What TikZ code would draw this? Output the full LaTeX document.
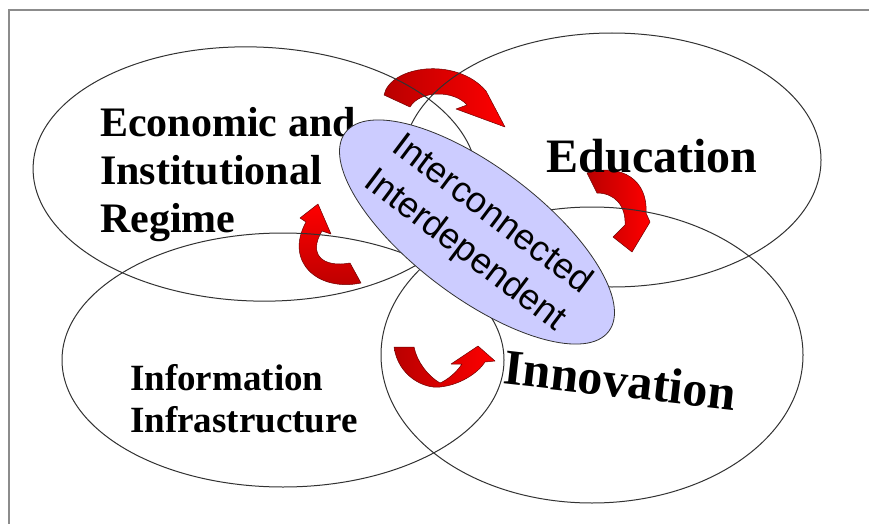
\documentclass[tikz,border=0pt]{standalone}
\usepackage{fontspec}
\setmainfont{Liberation Serif}
\newfontfamily\blufont{Liberation Sans}
\usetikzlibrary{shapes.geometric}
\definecolor{corefill}{RGB}{204,204,255}
\definecolor{arrdark}{RGB}{185,0,0}
\definecolor{arrred}{RGB}{255,0,0}
\definecolor{arredge}{RGB}{110,0,0}
\definecolor{edgegray}{RGB}{50,50,50}
\definecolor{framegray}{RGB}{140,140,140}
\begin{document}
\begin{tikzpicture}[x=1pt,y=-1pt,
  ring/.style={draw=edgegray, line width=1pt, ellipse, inner sep=0pt},
  arrowbody/.style={draw=arredge, line width=0.5pt, line join=round},
  lbl/.style={inner sep=0pt, text=black}]
\useasboundingbox (0,0) rectangle (869,524);
\fill[white] (0,0) rectangle (869,524);
\coordinate (fbl) at (9,524);
\coordinate (ftl) at (9,10);
\coordinate (ftr) at (869,10);
\draw[framegray, line width=1.5pt] (fbl) -- (ftl) -- (ftr);
% curved block arrows
\path[arrowbody, left color=arrdark, middle color=arrred, right color=arrred]
  (384,95) .. controls (390,66) and (456,56) .. (486,91) -- (505,127) -- (456,109) -- (467,105)
  .. controls (454,90) and (420,90) .. (410,107) -- cycle;
\path[arrowbody, left color=arrdark, middle color=arrred, right color=arrred]
  (587,173) .. controls (622,163) and (648,180) .. (646,213) -- (650,222) -- (632,252) -- (613,237) -- (625,225)
  .. controls (626,205) and (614,193) .. (597,193) -- cycle;
\path[arrowbody, top color=arrred, middle color=arrred, bottom color=arrdark]
  (361,283) .. controls (318,292) and (284,262) .. (306,222) -- (300,218) -- (318,204) -- (331,234) -- (322,231)
  .. controls (308,254) and (322,268) .. (350,263) -- cycle;
\path[arrowbody, left color=arrdark, middle color=arrred, right color=arrred]
  (394,347) .. controls (398,376) and (424,389) .. (440,387) .. controls (460,385) and (478,373) .. (485,362)
  -- (495,361) -- (478,346) -- (451,364) -- (462,364)
  .. controls (456,373) and (447,380) .. (440,383) .. controls (428,376) and (417,362) .. (414,347) -- cycle;
% the four regions
\node[ring, minimum width=444pt, minimum height=254pt, rotate=-2] (econ) at (255,174) {};
\node[ring, minimum width=418pt, minimum height=254pt] (educ) at (612,160) {};
\node[ring, minimum width=442pt, minimum height=254pt] (info) at (283,360) {};
\node[ring, minimum width=422pt, minimum height=296pt] (innov) at (592,355) {};
% labels under the core
\node[lbl, font=\bfseries\fontsize{42}{48}\selectfont, align=left, anchor=west] (econtext) at (100,175) {Economic and\\Institutional\\Regime};
% core
\node[ellipse, draw=edgegray, line width=0.8pt, fill=corefill, minimum width=330pt, minimum height=130pt, inner sep=0pt, rotate=-37] (core) at (477,232) {};
\node[lbl, font=\blufont\fontsize{36}{45}\selectfont, align=center, rotate=-37] (coretext) at (478,233) {Interconnected\\Interdependent};
% labels
\node[lbl, font=\bfseries\fontsize{48}{56}\selectfont, anchor=base] (eductext) at (652,172) {Education};
\node[lbl, font=\bfseries\fontsize{50}{58}\selectfont, rotate=-6.5] (innovtext) at (620,380) {Innovation};
\node[lbl, font=\bfseries\fontsize{37}{42}\selectfont, align=left, anchor=west] (infotext) at (130,399) {Information\\Infrastructure};
\end{tikzpicture}
\end{document}
